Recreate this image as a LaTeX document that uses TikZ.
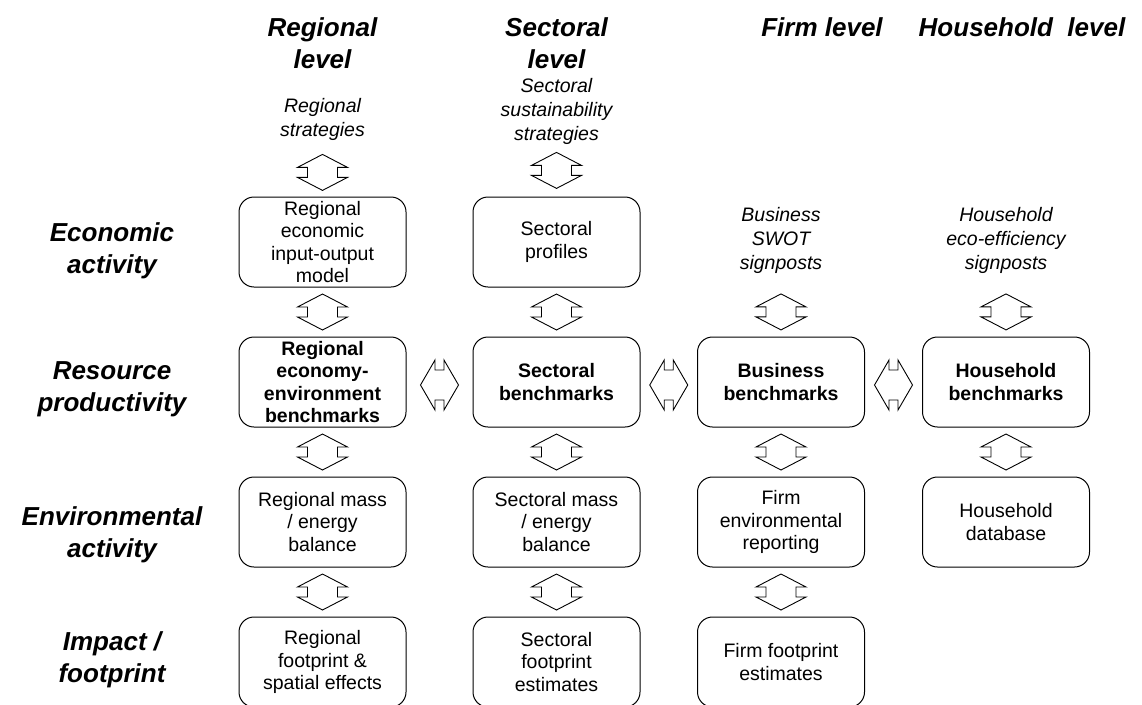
\documentclass[tikz,border=0pt]{standalone}
\usepackage{fontspec}
\setmainfont{Liberation Sans}
\usetikzlibrary{calc}

% up-down block arrow between two stacked nodes (optional shift down)
\newcommand{\vlink}[3][0]{\draw[link] ($(#2.south)!0.5!(#3.north)+(0,#1)$)
                        ++(0,-18) -- ++(25,13) -- ++(-10,0) -- ++(0,10)
                        -- ++(10,0) -- ++(-25,13) -- ++(-25,-13) -- ++(10,0)
                        -- ++(0,-10) -- ++(-10,0) -- cycle;
                      }
% left-right block arrow between two nodes side by side
\newcommand{\hlink}[2]{\draw[link] ($(#1.east)!0.5!(#2.west)+(0,3)$)
                        ++(-19,0) -- ++(14.5,-25) -- ++(0,10) -- ++(9,0)
                        -- ++(0,-10) -- ++(14.5,25) -- ++(-14.5,25) -- ++(0,-10)
                        -- ++(-9,0) -- ++(0,10) -- cycle;
                      }

\tikzset{box/.style={draw=black,line width=1pt,rounded corners=15pt,
                     minimum width=167pt,minimum height=90pt,align=center,
                     inner sep=2pt,font=\fontsize{19.5}{22.5}\selectfont},
         bbox/.style={box,font=\fontsize{19.5}{22.5}\selectfont\bfseries},
         note/.style={align=center,inner sep=0pt,
                      font=\fontsize{19.5}{24}\selectfont\itshape},
         level/.style={align=center,inner sep=0pt,
                       font=\fontsize{26}{32}\selectfont\bfseries\itshape},
         link/.style={draw=black,line width=0.9pt,fill=white}}

\begin{document}
\begin{tikzpicture}[x=1pt,y=-1pt]
 \useasboundingbox (0,0) rectangle (1142,704);

 % column and row heads
 \node[level] (RL) at (322.5,43) {Regional\\level};
 \node[level] (SL) at (556.5,43) {Sectoral\\level};
 \node[level] (FL) at (822,27)   {Firm level};
 \node[level] (HL) at (1022,27)  {Household\ \ level};

 \node[level] (EA) at (112,251) {Economic\\activity};
 \node[level] (RP) at (112,389) {Resource\\productivity};
 \node[level] (EV) at (112,535) {Environmental\\activity};
 \node[level] (IF) at (112,660) {Impact /\\footprint};

 % strategies and signposts
 \node[note] (RS) at (322.5,119) {Regional\\strategies};
 \node[note] (SS) at (556.5,111) {Sectoral\\sustainability\\strategies};
 \node[note] (FS) at (781,240)   {Business\\SWOT\\signposts};
 \node[note] (HS) at (1006,240)  {Household\\eco-efficiency\\signposts};

 % regional level
 \node[box]  (R1) at (322.5,242) {Regional\\economic\\input-output\\model};
 \node[bbox] (R2) at (322.5,382) {Regional\\economy-\\environment\\benchmarks};
 \node[box]  (R3) at (322.5,522) {Regional mass\\/ energy\\balance};
 \node[box]  (R4) at (322.5,662) {Regional\\footprint \&\\spatial effects};

 % sectoral level
 \node[box]  (S1) at (556.5,242) {Sectoral\\profiles};
 \node[bbox] (S2) at (556.5,382) {Sectoral\\benchmarks};
 \node[box]  (S3) at (556.5,522) {Sectoral mass\\/ energy\\balance};
 \node[box]  (S4) at (556.5,662) {Sectoral\\footprint\\estimates};

 % firm level
 \node[bbox] (F2) at (781,382) {Business\\benchmarks};
 \node[box]  (F3) at (781,522) {Firm\\environmental\\reporting};
 \node[box]  (F4) at (781,662) {Firm footprint\\estimates};

 % household level
 \node[bbox] (H2) at (1006,382) {Household\\benchmarks};
 \node[box]  (H3) at (1006,522) {Household\\database};

 % links
 \vlink[4]{RS}{R1} \vlink{R1}{R2} \vlink{R2}{R3} \vlink{R3}{R4}
 \vlink{SS}{S1}    \vlink{S1}{S2} \vlink{S2}{S3} \vlink{S3}{S4}
 \vlink[7]{FS}{F2} \vlink{F2}{F3} \vlink{F3}{F4}
 \vlink[7]{HS}{H2} \vlink{H2}{H3}

 \hlink{R2}{S2} \hlink{S2}{F2} \hlink{F2}{H2}

\end{tikzpicture}
\end{document}
